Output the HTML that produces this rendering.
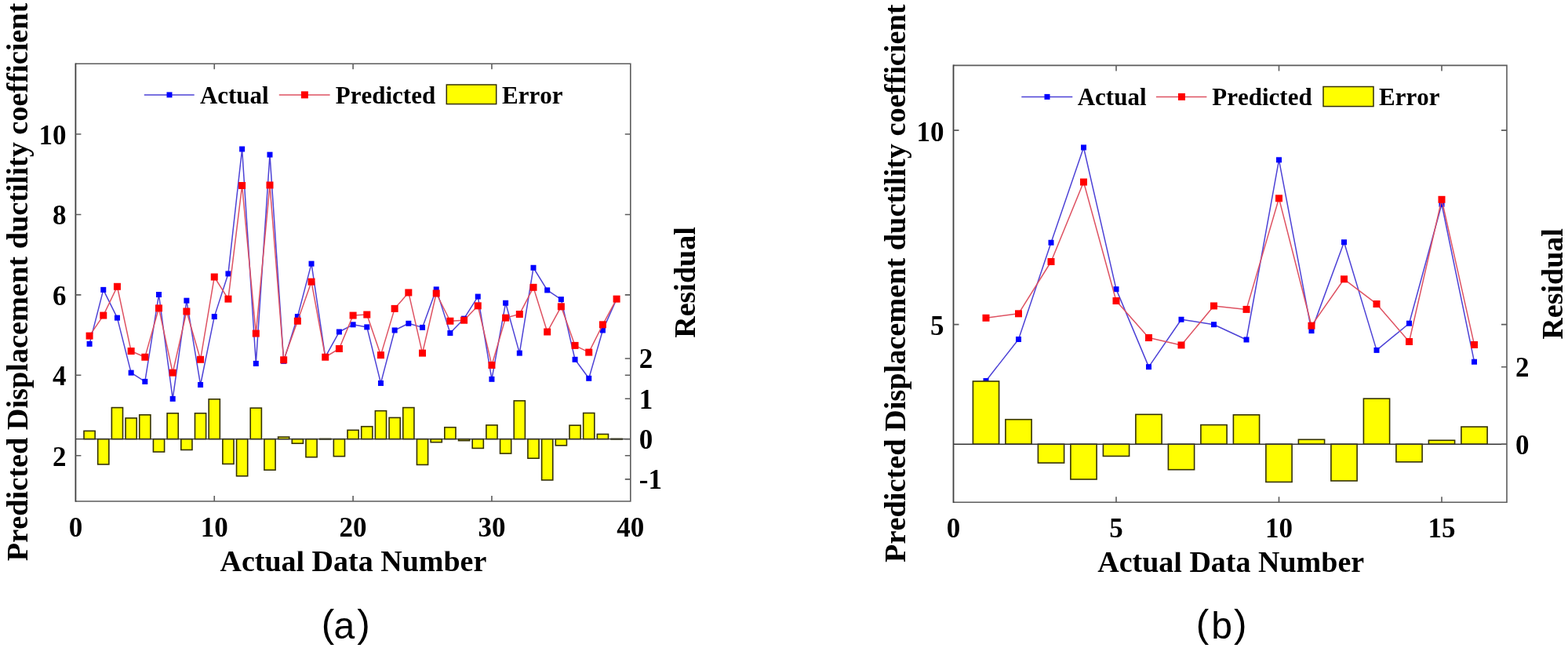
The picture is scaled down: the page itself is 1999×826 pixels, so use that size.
<!DOCTYPE html>
<html><head><meta charset="utf-8"><title>Predicted vs actual displacement ductility coefficient</title>
<style>
html,body{margin:0;padding:0;background:#fff;}
body{width:1999px;height:826px;overflow:hidden;}
svg{display:block;}
text{font-family:"Liberation Serif","Times New Roman",serif;font-weight:bold;fill:#000;font-variant-ligatures:none;font-feature-settings:"liga" 0,"kern" 0;font-kerning:none;}
.tk{font-size:35px;}
.al{font-size:38px;}
.lg{font-size:31px;}
.cap{font-family:"Liberation Sans",Arial,sans-serif;font-weight:normal;font-size:49px;}
</style></head><body>
<svg width="1999" height="826" viewBox="0 0 1999 826">
<rect width="1999" height="826" fill="#fff"/>
<g id="chart-a">
<polyline points="114.09,438.35 131.77,369.37 149.45,405.14 167.14,475.14 184.82,486.39 202.51,375.5 220.19,508.36 237.88,383.17 255.56,490.48 273.25,403.61 290.94,348.93 308.62,190.01 326.3,463.39 343.99,197.16 361.67,460.33 379.36,403.61 397.04,336.15 414.73,455.22 432.41,423.02 450.1,413.82 467.78,416.89 485.47,488.43 503.15,420.98 520.84,412.29 538.52,417.4 556.21,368.86 573.89,424.56 591.58,406.16 609.26,378.06 626.95,483.32 644.63,386.23 662.32,450.11 680,341.26 697.69,369.88 715.37,381.63 733.06,458.28 750.74,482.3 768.43,420.98 786.11,381.12" fill="none" stroke="#4d42d6" stroke-width="1.5" stroke-linejoin="round"/>
<rect x="110.59" y="434.85" width="7" height="7" fill="#0000ff"/>
<rect x="128.27" y="365.87" width="7" height="7" fill="#0000ff"/>
<rect x="145.95" y="401.64" width="7" height="7" fill="#0000ff"/>
<rect x="163.64" y="471.64" width="7" height="7" fill="#0000ff"/>
<rect x="181.32" y="482.89" width="7" height="7" fill="#0000ff"/>
<rect x="199.01" y="372" width="7" height="7" fill="#0000ff"/>
<rect x="216.69" y="504.86" width="7" height="7" fill="#0000ff"/>
<rect x="234.38" y="379.67" width="7" height="7" fill="#0000ff"/>
<rect x="252.06" y="486.98" width="7" height="7" fill="#0000ff"/>
<rect x="269.75" y="400.11" width="7" height="7" fill="#0000ff"/>
<rect x="287.44" y="345.43" width="7" height="7" fill="#0000ff"/>
<rect x="305.12" y="186.51" width="7" height="7" fill="#0000ff"/>
<rect x="322.8" y="459.89" width="7" height="7" fill="#0000ff"/>
<rect x="340.49" y="193.66" width="7" height="7" fill="#0000ff"/>
<rect x="358.17" y="456.83" width="7" height="7" fill="#0000ff"/>
<rect x="375.86" y="400.11" width="7" height="7" fill="#0000ff"/>
<rect x="393.54" y="332.65" width="7" height="7" fill="#0000ff"/>
<rect x="411.23" y="451.72" width="7" height="7" fill="#0000ff"/>
<rect x="428.91" y="419.52" width="7" height="7" fill="#0000ff"/>
<rect x="446.6" y="410.32" width="7" height="7" fill="#0000ff"/>
<rect x="464.28" y="413.39" width="7" height="7" fill="#0000ff"/>
<rect x="481.97" y="484.93" width="7" height="7" fill="#0000ff"/>
<rect x="499.65" y="417.48" width="7" height="7" fill="#0000ff"/>
<rect x="517.34" y="408.79" width="7" height="7" fill="#0000ff"/>
<rect x="535.02" y="413.9" width="7" height="7" fill="#0000ff"/>
<rect x="552.71" y="365.36" width="7" height="7" fill="#0000ff"/>
<rect x="570.39" y="421.06" width="7" height="7" fill="#0000ff"/>
<rect x="588.08" y="402.66" width="7" height="7" fill="#0000ff"/>
<rect x="605.76" y="374.56" width="7" height="7" fill="#0000ff"/>
<rect x="623.45" y="479.82" width="7" height="7" fill="#0000ff"/>
<rect x="641.13" y="382.73" width="7" height="7" fill="#0000ff"/>
<rect x="658.82" y="446.61" width="7" height="7" fill="#0000ff"/>
<rect x="676.5" y="337.76" width="7" height="7" fill="#0000ff"/>
<rect x="694.19" y="366.38" width="7" height="7" fill="#0000ff"/>
<rect x="711.87" y="378.13" width="7" height="7" fill="#0000ff"/>
<rect x="729.56" y="454.78" width="7" height="7" fill="#0000ff"/>
<rect x="747.24" y="478.8" width="7" height="7" fill="#0000ff"/>
<rect x="764.93" y="417.48" width="7" height="7" fill="#0000ff"/>
<rect x="782.61" y="377.62" width="7" height="7" fill="#0000ff"/>
<polyline points="114.09,428.13 131.77,402.07 149.45,365.28 167.14,447.55 184.82,455.22 202.51,392.87 220.19,475.14 237.88,396.96 255.56,458.28 273.25,353.02 290.94,381.12 308.62,236.51 326.3,425.07 343.99,236 361.67,458.79 379.36,409.23 397.04,359.15 414.73,455.22 432.41,444.49 450.1,402.07 467.78,401.05 485.47,452.66 503.15,393.38 520.84,372.94 538.52,450.11 556.21,373.97 573.89,409.23 591.58,408.2 609.26,389.81 626.95,465.44 644.63,405.14 662.32,400.54 680,366.3 697.69,423.02 715.37,390.83 733.06,440.4 750.74,449.08 768.43,413.82 786.11,381.12" fill="none" stroke="#de5262" stroke-width="1.5" stroke-linejoin="round"/>
<rect x="109.59" y="423.63" width="9" height="9" fill="#ff0000"/>
<rect x="127.27" y="397.57" width="9" height="9" fill="#ff0000"/>
<rect x="144.95" y="360.78" width="9" height="9" fill="#ff0000"/>
<rect x="162.64" y="443.05" width="9" height="9" fill="#ff0000"/>
<rect x="180.32" y="450.72" width="9" height="9" fill="#ff0000"/>
<rect x="198.01" y="388.37" width="9" height="9" fill="#ff0000"/>
<rect x="215.69" y="470.64" width="9" height="9" fill="#ff0000"/>
<rect x="233.38" y="392.46" width="9" height="9" fill="#ff0000"/>
<rect x="251.06" y="453.78" width="9" height="9" fill="#ff0000"/>
<rect x="268.75" y="348.52" width="9" height="9" fill="#ff0000"/>
<rect x="286.44" y="376.62" width="9" height="9" fill="#ff0000"/>
<rect x="304.12" y="232.01" width="9" height="9" fill="#ff0000"/>
<rect x="321.8" y="420.57" width="9" height="9" fill="#ff0000"/>
<rect x="339.49" y="231.5" width="9" height="9" fill="#ff0000"/>
<rect x="357.17" y="454.29" width="9" height="9" fill="#ff0000"/>
<rect x="374.86" y="404.73" width="9" height="9" fill="#ff0000"/>
<rect x="392.54" y="354.65" width="9" height="9" fill="#ff0000"/>
<rect x="410.23" y="450.72" width="9" height="9" fill="#ff0000"/>
<rect x="427.91" y="439.99" width="9" height="9" fill="#ff0000"/>
<rect x="445.6" y="397.57" width="9" height="9" fill="#ff0000"/>
<rect x="463.28" y="396.55" width="9" height="9" fill="#ff0000"/>
<rect x="480.97" y="448.16" width="9" height="9" fill="#ff0000"/>
<rect x="498.65" y="388.88" width="9" height="9" fill="#ff0000"/>
<rect x="516.34" y="368.44" width="9" height="9" fill="#ff0000"/>
<rect x="534.02" y="445.61" width="9" height="9" fill="#ff0000"/>
<rect x="551.71" y="369.47" width="9" height="9" fill="#ff0000"/>
<rect x="569.39" y="404.73" width="9" height="9" fill="#ff0000"/>
<rect x="587.08" y="403.7" width="9" height="9" fill="#ff0000"/>
<rect x="604.76" y="385.31" width="9" height="9" fill="#ff0000"/>
<rect x="622.45" y="460.94" width="9" height="9" fill="#ff0000"/>
<rect x="640.13" y="400.64" width="9" height="9" fill="#ff0000"/>
<rect x="657.82" y="396.04" width="9" height="9" fill="#ff0000"/>
<rect x="675.5" y="361.8" width="9" height="9" fill="#ff0000"/>
<rect x="693.19" y="418.52" width="9" height="9" fill="#ff0000"/>
<rect x="710.87" y="386.33" width="9" height="9" fill="#ff0000"/>
<rect x="728.56" y="435.9" width="9" height="9" fill="#ff0000"/>
<rect x="746.24" y="444.58" width="9" height="9" fill="#ff0000"/>
<rect x="763.93" y="409.32" width="9" height="9" fill="#ff0000"/>
<rect x="781.61" y="376.62" width="9" height="9" fill="#ff0000"/>
<rect x="107.01" y="549.34" width="14.15" height="10.26" fill="#ffff00" stroke="#353200" stroke-width="1.6"/>
<rect x="124.7" y="559.6" width="14.15" height="32.32" fill="#ffff00" stroke="#353200" stroke-width="1.6"/>
<rect x="142.38" y="519.59" width="14.15" height="40.01" fill="#ffff00" stroke="#353200" stroke-width="1.6"/>
<rect x="160.07" y="532.92" width="14.15" height="26.68" fill="#ffff00" stroke="#353200" stroke-width="1.6"/>
<rect x="177.75" y="528.82" width="14.15" height="30.78" fill="#ffff00" stroke="#353200" stroke-width="1.6"/>
<rect x="195.44" y="559.6" width="14.15" height="16.42" fill="#ffff00" stroke="#353200" stroke-width="1.6"/>
<rect x="213.12" y="526.77" width="14.15" height="32.83" fill="#ffff00" stroke="#353200" stroke-width="1.6"/>
<rect x="230.81" y="559.6" width="14.15" height="13.85" fill="#ffff00" stroke="#353200" stroke-width="1.6"/>
<rect x="248.49" y="526.77" width="14.15" height="32.83" fill="#ffff00" stroke="#353200" stroke-width="1.6"/>
<rect x="266.18" y="508.81" width="14.15" height="50.79" fill="#ffff00" stroke="#353200" stroke-width="1.6"/>
<rect x="283.86" y="559.6" width="14.15" height="31.81" fill="#ffff00" stroke="#353200" stroke-width="1.6"/>
<rect x="301.55" y="559.6" width="14.15" height="47.2" fill="#ffff00" stroke="#353200" stroke-width="1.6"/>
<rect x="319.23" y="520.1" width="14.15" height="39.5" fill="#ffff00" stroke="#353200" stroke-width="1.6"/>
<rect x="336.92" y="559.6" width="14.15" height="39.5" fill="#ffff00" stroke="#353200" stroke-width="1.6"/>
<rect x="354.6" y="557.03" width="14.15" height="2.57" fill="#ffff00" stroke="#353200" stroke-width="1.6"/>
<rect x="372.29" y="559.6" width="14.15" height="5.64" fill="#ffff00" stroke="#353200" stroke-width="1.6"/>
<rect x="389.97" y="559.6" width="14.15" height="23.09" fill="#ffff00" stroke="#353200" stroke-width="1.6"/>
<rect x="407.66" y="559.34" width="14.15" height="0.6" fill="#ffff00" stroke="#353200" stroke-width="1.6"/>
<rect x="425.34" y="559.6" width="14.15" height="22.06" fill="#ffff00" stroke="#353200" stroke-width="1.6"/>
<rect x="443.03" y="548.31" width="14.15" height="11.29" fill="#ffff00" stroke="#353200" stroke-width="1.6"/>
<rect x="460.71" y="543.7" width="14.15" height="15.9" fill="#ffff00" stroke="#353200" stroke-width="1.6"/>
<rect x="478.4" y="523.69" width="14.15" height="35.91" fill="#ffff00" stroke="#353200" stroke-width="1.6"/>
<rect x="496.08" y="532.41" width="14.15" height="27.19" fill="#ffff00" stroke="#353200" stroke-width="1.6"/>
<rect x="513.77" y="519.59" width="14.15" height="40.01" fill="#ffff00" stroke="#353200" stroke-width="1.6"/>
<rect x="531.45" y="559.6" width="14.15" height="32.83" fill="#ffff00" stroke="#353200" stroke-width="1.6"/>
<rect x="549.14" y="559.6" width="14.15" height="4.1" fill="#ffff00" stroke="#353200" stroke-width="1.6"/>
<rect x="566.82" y="544.72" width="14.15" height="14.88" fill="#ffff00" stroke="#353200" stroke-width="1.6"/>
<rect x="584.51" y="559.6" width="14.15" height="2.05" fill="#ffff00" stroke="#353200" stroke-width="1.6"/>
<rect x="602.19" y="559.6" width="14.15" height="11.8" fill="#ffff00" stroke="#353200" stroke-width="1.6"/>
<rect x="619.88" y="541.9" width="14.15" height="17.7" fill="#ffff00" stroke="#353200" stroke-width="1.6"/>
<rect x="637.56" y="559.6" width="14.15" height="18.47" fill="#ffff00" stroke="#353200" stroke-width="1.6"/>
<rect x="655.25" y="510.87" width="14.15" height="48.74" fill="#ffff00" stroke="#353200" stroke-width="1.6"/>
<rect x="672.93" y="559.6" width="14.15" height="24.62" fill="#ffff00" stroke="#353200" stroke-width="1.6"/>
<rect x="690.62" y="559.6" width="14.15" height="52.33" fill="#ffff00" stroke="#353200" stroke-width="1.6"/>
<rect x="708.3" y="559.6" width="14.15" height="8.21" fill="#ffff00" stroke="#353200" stroke-width="1.6"/>
<rect x="725.99" y="542.16" width="14.15" height="17.44" fill="#ffff00" stroke="#353200" stroke-width="1.6"/>
<rect x="743.67" y="526.51" width="14.15" height="33.09" fill="#ffff00" stroke="#353200" stroke-width="1.6"/>
<rect x="761.36" y="553.44" width="14.15" height="6.16" fill="#ffff00" stroke="#353200" stroke-width="1.6"/>
<rect x="779.04" y="559.34" width="14.15" height="0.6" fill="#ffff00" stroke="#353200" stroke-width="1.6"/>
<line x1="96.4" y1="559.6" x2="803.8" y2="559.6" stroke="#333" stroke-width="1.4"/>
<path d="M96.4 81.2H803.8V639H96.4" fill="none" stroke="#5c5c5c" stroke-width="1.6"/>
<line x1="96.4" y1="80.4" x2="96.4" y2="639.8" stroke="#404040" stroke-width="1.8"/>
<path d="M273.25 639v-7M273.25 81.2v7M450.1 639v-7M450.1 81.2v7M626.95 639v-7M626.95 81.2v7M96.4 580.74h7M803.8 580.74h-7M96.4 478.32h7M803.8 478.32h-7M96.4 375.9h7M803.8 375.9h-7M96.4 273.48h7M803.8 273.48h-7M96.4 171.06h7M803.8 171.06h-7M803.8 610.9h-7M803.8 559.6h-7M803.8 508.3h-7M803.8 457h-7" stroke="#5c5c5c" stroke-width="1.6" fill="none"/>
<text class="tk" x="96.4" y="683.8" text-anchor="middle">0</text>
<text class="tk" x="273.25" y="683.8" text-anchor="middle">10</text>
<text class="tk" x="450.1" y="683.8" text-anchor="middle">20</text>
<text class="tk" x="626.95" y="683.8" text-anchor="middle">30</text>
<text class="tk" x="803.8" y="683.8" text-anchor="middle">40</text>
<text class="tk" x="84.5" y="593.74" text-anchor="end">2</text>
<text class="tk" x="84.5" y="491.32" text-anchor="end">4</text>
<text class="tk" x="84.5" y="388.9" text-anchor="end">6</text>
<text class="tk" x="84.5" y="286.48" text-anchor="end">8</text>
<text class="tk" x="84.5" y="184.06" text-anchor="end">10</text>
<text class="tk" x="814.8" y="469.3">2</text>
<text class="tk" x="814.8" y="520.6">1</text>
<text class="tk" x="814.8" y="571.9">0</text>
<text class="tk" x="814.8" y="623.2">-1</text>
<line x1="183.8" y1="120.9" x2="247.7" y2="120.9" stroke="#4d42d6" stroke-width="1.5"/>
<rect x="212.5" y="117.4" width="7" height="7" fill="#0000ff"/>
<text class="lg" x="254.9" y="131.8">Actual</text>
<line x1="355.8" y1="120.9" x2="420.6" y2="120.9" stroke="#de5262" stroke-width="1.5"/>
<rect x="383.9" y="116.4" width="9" height="9" fill="#ff0000"/>
<text class="lg" x="427.8" y="131.8">Predicted</text>
<rect x="569.3" y="108" width="63.4" height="24.6" fill="#ffff00" stroke="#353200" stroke-width="1.5"/>
<text class="lg" x="640.1" y="131.8">Error</text>
</g>
<g id="chart-b">
<polyline points="1257,485.48 1298.5,432.51 1340,309.25 1381.5,187.98 1423,368.65 1464.5,467.65 1506,407.26 1547.5,413.7 1589,433 1630.5,203.82 1672,421.62 1713.5,308.76 1755,446.37 1796.5,412.21 1838,260.25 1879.5,461.22" fill="none" stroke="#4d42d6" stroke-width="1.5" stroke-linejoin="round"/>
<rect x="1253.5" y="481.98" width="7" height="7" fill="#0000ff"/>
<rect x="1295" y="429.01" width="7" height="7" fill="#0000ff"/>
<rect x="1336.5" y="305.75" width="7" height="7" fill="#0000ff"/>
<rect x="1378" y="184.48" width="7" height="7" fill="#0000ff"/>
<rect x="1419.5" y="365.15" width="7" height="7" fill="#0000ff"/>
<rect x="1461" y="464.15" width="7" height="7" fill="#0000ff"/>
<rect x="1502.5" y="403.76" width="7" height="7" fill="#0000ff"/>
<rect x="1544" y="410.2" width="7" height="7" fill="#0000ff"/>
<rect x="1585.5" y="429.5" width="7" height="7" fill="#0000ff"/>
<rect x="1627" y="200.32" width="7" height="7" fill="#0000ff"/>
<rect x="1668.5" y="418.12" width="7" height="7" fill="#0000ff"/>
<rect x="1710" y="305.26" width="7" height="7" fill="#0000ff"/>
<rect x="1751.5" y="442.87" width="7" height="7" fill="#0000ff"/>
<rect x="1793" y="408.71" width="7" height="7" fill="#0000ff"/>
<rect x="1834.5" y="256.75" width="7" height="7" fill="#0000ff"/>
<rect x="1876" y="457.72" width="7" height="7" fill="#0000ff"/>
<polyline points="1257,405.28 1298.5,399.84 1340,333.51 1381.5,232.03 1423,383.5 1464.5,430.53 1506,439.94 1547.5,389.94 1589,394.39 1630.5,252.82 1672,415.19 1713.5,355.78 1755,387.46 1796.5,435.48 1838,254.31 1879.5,439.44" fill="none" stroke="#de5262" stroke-width="1.5" stroke-linejoin="round"/>
<rect x="1252.5" y="400.78" width="9" height="9" fill="#ff0000"/>
<rect x="1294" y="395.34" width="9" height="9" fill="#ff0000"/>
<rect x="1335.5" y="329.01" width="9" height="9" fill="#ff0000"/>
<rect x="1377" y="227.53" width="9" height="9" fill="#ff0000"/>
<rect x="1418.5" y="379" width="9" height="9" fill="#ff0000"/>
<rect x="1460" y="426.03" width="9" height="9" fill="#ff0000"/>
<rect x="1501.5" y="435.44" width="9" height="9" fill="#ff0000"/>
<rect x="1543" y="385.44" width="9" height="9" fill="#ff0000"/>
<rect x="1584.5" y="389.89" width="9" height="9" fill="#ff0000"/>
<rect x="1626" y="248.32" width="9" height="9" fill="#ff0000"/>
<rect x="1667.5" y="410.69" width="9" height="9" fill="#ff0000"/>
<rect x="1709" y="351.28" width="9" height="9" fill="#ff0000"/>
<rect x="1750.5" y="382.96" width="9" height="9" fill="#ff0000"/>
<rect x="1792" y="430.98" width="9" height="9" fill="#ff0000"/>
<rect x="1833.5" y="249.81" width="9" height="9" fill="#ff0000"/>
<rect x="1875" y="434.94" width="9" height="9" fill="#ff0000"/>
<rect x="1240.4" y="486" width="33.2" height="80.2" fill="#ffff00" stroke="#353200" stroke-width="1.6"/>
<rect x="1281.9" y="534.71" width="33.2" height="31.49" fill="#ffff00" stroke="#353200" stroke-width="1.6"/>
<rect x="1323.4" y="566.2" width="33.2" height="23.86" fill="#ffff00" stroke="#353200" stroke-width="1.6"/>
<rect x="1364.9" y="566.2" width="33.2" height="44.77" fill="#ffff00" stroke="#353200" stroke-width="1.6"/>
<rect x="1406.4" y="566.2" width="33.2" height="15.25" fill="#ffff00" stroke="#353200" stroke-width="1.6"/>
<rect x="1447.9" y="528.32" width="33.2" height="37.88" fill="#ffff00" stroke="#353200" stroke-width="1.6"/>
<rect x="1489.4" y="566.2" width="33.2" height="32.47" fill="#ffff00" stroke="#353200" stroke-width="1.6"/>
<rect x="1530.9" y="541.6" width="33.2" height="24.6" fill="#ffff00" stroke="#353200" stroke-width="1.6"/>
<rect x="1572.4" y="528.81" width="33.2" height="37.39" fill="#ffff00" stroke="#353200" stroke-width="1.6"/>
<rect x="1613.9" y="566.2" width="33.2" height="48.22" fill="#ffff00" stroke="#353200" stroke-width="1.6"/>
<rect x="1655.4" y="560.3" width="33.2" height="5.9" fill="#ffff00" stroke="#353200" stroke-width="1.6"/>
<rect x="1696.9" y="566.2" width="33.2" height="46.74" fill="#ffff00" stroke="#353200" stroke-width="1.6"/>
<rect x="1738.4" y="508.14" width="33.2" height="58.06" fill="#ffff00" stroke="#353200" stroke-width="1.6"/>
<rect x="1779.9" y="566.2" width="33.2" height="22.63" fill="#ffff00" stroke="#353200" stroke-width="1.6"/>
<rect x="1821.4" y="561.28" width="33.2" height="4.92" fill="#ffff00" stroke="#353200" stroke-width="1.6"/>
<rect x="1862.9" y="544.06" width="33.2" height="22.14" fill="#ffff00" stroke="#353200" stroke-width="1.6"/>
<line x1="1215.5" y1="566.2" x2="1921" y2="566.2" stroke="#333" stroke-width="1.4"/>
<path d="M1215.5 83.4H1921V640.3H1215.5" fill="none" stroke="#5c5c5c" stroke-width="1.6"/>
<line x1="1215.5" y1="82.6" x2="1215.5" y2="641.1" stroke="#404040" stroke-width="1.8"/>
<path d="M1423 640.3v-7M1423 83.4v7M1630.5 640.3v-7M1630.5 83.4v7M1838 640.3v-7M1838 83.4v7M1215.5 413.6h7M1921 413.6h-7M1215.5 166.1h7M1921 166.1h-7M1921 566.2h-7M1921 467.8h-7" stroke="#5c5c5c" stroke-width="1.6" fill="none"/>
<text class="tk" x="1215.5" y="685" text-anchor="middle">0</text>
<text class="tk" x="1423" y="685" text-anchor="middle">5</text>
<text class="tk" x="1630.5" y="685" text-anchor="middle">10</text>
<text class="tk" x="1838" y="685" text-anchor="middle">15</text>
<text class="tk" x="1203.4" y="427.2" text-anchor="end">5</text>
<text class="tk" x="1203.4" y="179.7" text-anchor="end">10</text>
<text class="tk" x="1932" y="480.1">2</text>
<text class="tk" x="1932" y="578.5">0</text>
<line x1="1302.3" y1="123.4" x2="1367.3" y2="123.4" stroke="#4d42d6" stroke-width="1.5"/>
<rect x="1331.5" y="119.9" width="7" height="7" fill="#0000ff"/>
<text class="lg" x="1373.7" y="134.3">Actual</text>
<line x1="1473.9" y1="123.4" x2="1538.4" y2="123.4" stroke="#de5262" stroke-width="1.5"/>
<rect x="1502" y="118.9" width="9" height="9" fill="#ff0000"/>
<text class="lg" x="1545.3" y="134.3">Predicted</text>
<rect x="1687" y="110.5" width="64" height="25.1" fill="#ffff00" stroke="#353200" stroke-width="1.5"/>
<text class="lg" x="1758" y="134.3">Error</text>
</g>

<defs><clipPath id="cxa"><rect x="200" y="702.4" width="500" height="40"/></clipPath><clipPath id="cxb"><rect x="1320" y="703.8" width="500" height="40"/></clipPath></defs>
<text class="al" x="450.4" y="727.8" text-anchor="middle" clip-path="url(#cxa)">Actual Data Number</text>
<text class="al" x="1569.2" y="729" text-anchor="middle" clip-path="url(#cxb)">Actual Data Number</text>
<text class="al" transform="translate(34.5 359.4) rotate(-90)" text-anchor="middle" style="font-size:38.3px">Predicted Displacement ductility coefficient</text>
<text class="al" transform="translate(1153.7 361.2) rotate(-90)" text-anchor="middle" style="font-size:38.3px">Predicted Displacement ductility coefficient</text>
<text class="al" transform="translate(886 360) rotate(-90)" text-anchor="middle">Residual</text>
<text class="al" transform="translate(1992 361.9) rotate(-90)" text-anchor="middle">Residual</text>
<text class="cap" y="812.4" text-anchor="middle"><tspan x="418.1" style="font-size:49.5px">(</tspan><tspan x="438.95" y="814.2" style="font-size:48px">a</tspan><tspan x="463.5" y="812.4" style="font-size:49.5px">)</tspan></text>
<text class="cap" y="812.4" text-anchor="middle"><tspan x="1533.1" style="font-size:49.5px">(</tspan><tspan x="1557.6" y="814.2" style="font-size:48px">b</tspan><tspan x="1581.3" y="812.4" style="font-size:49.5px">)</tspan></text>

</svg>
</body></html>
